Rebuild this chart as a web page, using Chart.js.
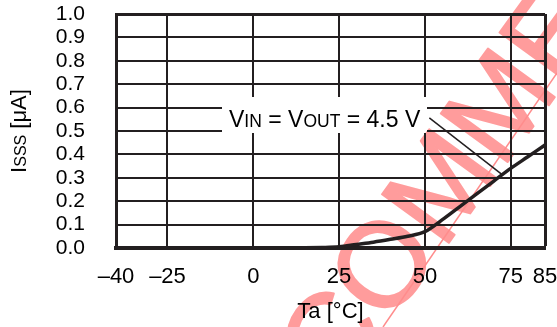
<!DOCTYPE html>
<html>
<head>
<meta charset="utf-8">
<script src="https://cdn.jsdelivr.net/npm/chart.js@4"></script>
<style>
  html, body { margin: 0; padding: 0; background: #fff; }
  #wrap { width: 557px; height: 327px; }
</style>
</head>
<body>
<div id="wrap"><canvas id="graph" width="557" height="327"></canvas></div>
<script>
// Isss vs ambient temperature
const temps = [-40, -25, 0, 10, 20, 25, 30, 35, 40, 45, 50, 55, 60, 65, 70, 75, 80, 85];
const isss = [0, 0, 0, 0, 0.002, 0.005, 0.015, 0.025, 0.037, 0.05, 0.07, 0.12, 0.175, 0.23, 0.285, 0.34, 0.39, 0.44];
const xTicks = [-40, -25, 0, 25, 50, 75, 85];
const yTicks = [0, 0.1, 0.2, 0.3, 0.4, 0.5, 0.6, 0.7, 0.8, 0.9, 1.0];

const ink = '#231f20';
const fontName = '"Liberation Sans", Arial, sans-serif';

// draws runs of text with different sizes on one baseline
function drawRuns(ctx, runs, x, y) {
  runs.forEach(r => {
    ctx.font = r[1] + 'px ' + fontName;
    ctx.fillText(r[0], x, y);
    x += ctx.measureText(r[0]).width;
  });
  return x;
}
function runsWidth(ctx, runs) {
  let w = 0;
  runs.forEach(r => {
    ctx.font = r[1] + 'px ' + fontName;
    w += ctx.measureText(r[0]).width;
  });
  return w;
}

const extras = {
  id: 'extras',
  afterDatasetsDraw(chart) {
    const ctx = chart.ctx;
    const xs = chart.scales.x, ys = chart.scales.y;
    ctx.save();
    // label box
    ctx.fillStyle = '#fff';
    ctx.fillRect(222, 97, 205, 36);
    // leader line to the curve
    ctx.strokeStyle = ink;
    ctx.lineWidth = 1.5;
    ctx.beginPath();
    ctx.moveTo(xs.getPixelForValue(51.3), ys.getPixelForValue(0.556));
    ctx.lineTo(xs.getPixelForValue(72.8), ys.getPixelForValue(0.31));
    ctx.stroke();
    ctx.fillStyle = '#000';
    ctx.textBaseline = 'alphabetic';
    ctx.textAlign = 'left';
    drawRuns(ctx, [['V', 23], ['IN', 17.5], [' = V', 23], ['OUT', 17.5], [' = 4.5 V', 23]], 229, 127);

    // axis titles
    const xr = [['Ta [°C]', 22]];
    drawRuns(ctx, xr, (chart.chartArea.left + chart.chartArea.right) / 2 - runsWidth(ctx, xr) / 2, 318);
    const yr = [['I', 22], ['SSS', 16], [' [μA]', 22]];
    ctx.translate(26, (chart.chartArea.top + chart.chartArea.bottom) / 2);
    ctx.rotate(-Math.PI / 2);
    drawRuns(ctx, yr, -runsWidth(ctx, yr) / 2, 0);
    ctx.restore();
  },
  afterDraw(chart) {
    const ctx = chart.ctx;
    ctx.save();
    // watermark
    ctx.globalCompositeOperation = 'darken';
    ctx.fillStyle = '#ff9c9c';
    ctx.strokeStyle = '#ff9c9c';
    ctx.lineWidth = 2;
    ctx.lineJoin = 'round';
    ctx.translate(463, 150);
    ctx.rotate(-54 * Math.PI / 180);
    ctx.font = '120px ' + fontName;
    ctx.textAlign = 'center';
    ctx.textBaseline = 'alphabetic';
    ctx.fillText('COMMEN', 0, 43);
    ctx.strokeText('COMMEN', 0, 43);
    ctx.restore();
    ctx.save();
    ctx.globalCompositeOperation = 'darken';
    ctx.strokeStyle = '#ff8c8c';
    ctx.lineWidth = 1.5;
    ctx.beginPath();
    ctx.moveTo(383, 327);
    ctx.lineTo(557, 73);
    ctx.stroke();
    ctx.restore();
  }
};

new Chart(document.getElementById('graph'), {
  type: 'line',
  data: {
    datasets: [{
      data: temps.map((t, i) => ({ x: t, y: isss[i] })),
      borderColor: ink,
      borderWidth: 3.5,
      pointRadius: 0,
      cubicInterpolationMode: 'monotone',
      fill: false
    }]
  },
  options: {
    responsive: false,
    animation: false,
    layout: { padding: { top: 14, right: 12, left: 0, bottom: 0 } },
    plugins: { legend: { display: false }, tooltip: { enabled: false } },
    scales: {
      x: {
        type: 'linear',
        min: -40,
        max: 85,
        afterBuildTicks: s => { s.ticks = xTicks.map(v => ({ value: v })); },
        afterFit: s => { s.height = 79; s.paddingLeft = 0; s.paddingRight = 0; },
        ticks: {
          autoSkip: false,
          maxRotation: 0,
          padding: 16,
          color: '#000',
          font: { family: fontName, size: 22 },
          callback: v => String(v).replace('-', '–')
        },
        grid: { color: ink, lineWidth: c => (c.tick && c.tick.value === 85 ? 3 : 2), drawTicks: false },
        border: { color: ink, width: 4 }
      },
      y: {
        min: 0,
        max: 1,
        afterBuildTicks: s => { s.ticks = yTicks.map(v => ({ value: v })); },
        afterFit: s => { s.width = 116; s.paddingTop = 0; s.paddingBottom = 0; },
        ticks: {
          autoSkip: false,
          padding: 31,
          color: '#000',
          font: { family: fontName, size: 21 },
          callback: v => v.toFixed(1)
        },
        grid: { color: ink, lineWidth: c => (c.tick && c.tick.value === 1 ? 3 : 2), drawTicks: false },
        border: { color: ink, width: 3 }
      }
    }
  },
  plugins: [extras]
});
</script>
</body>
</html>
